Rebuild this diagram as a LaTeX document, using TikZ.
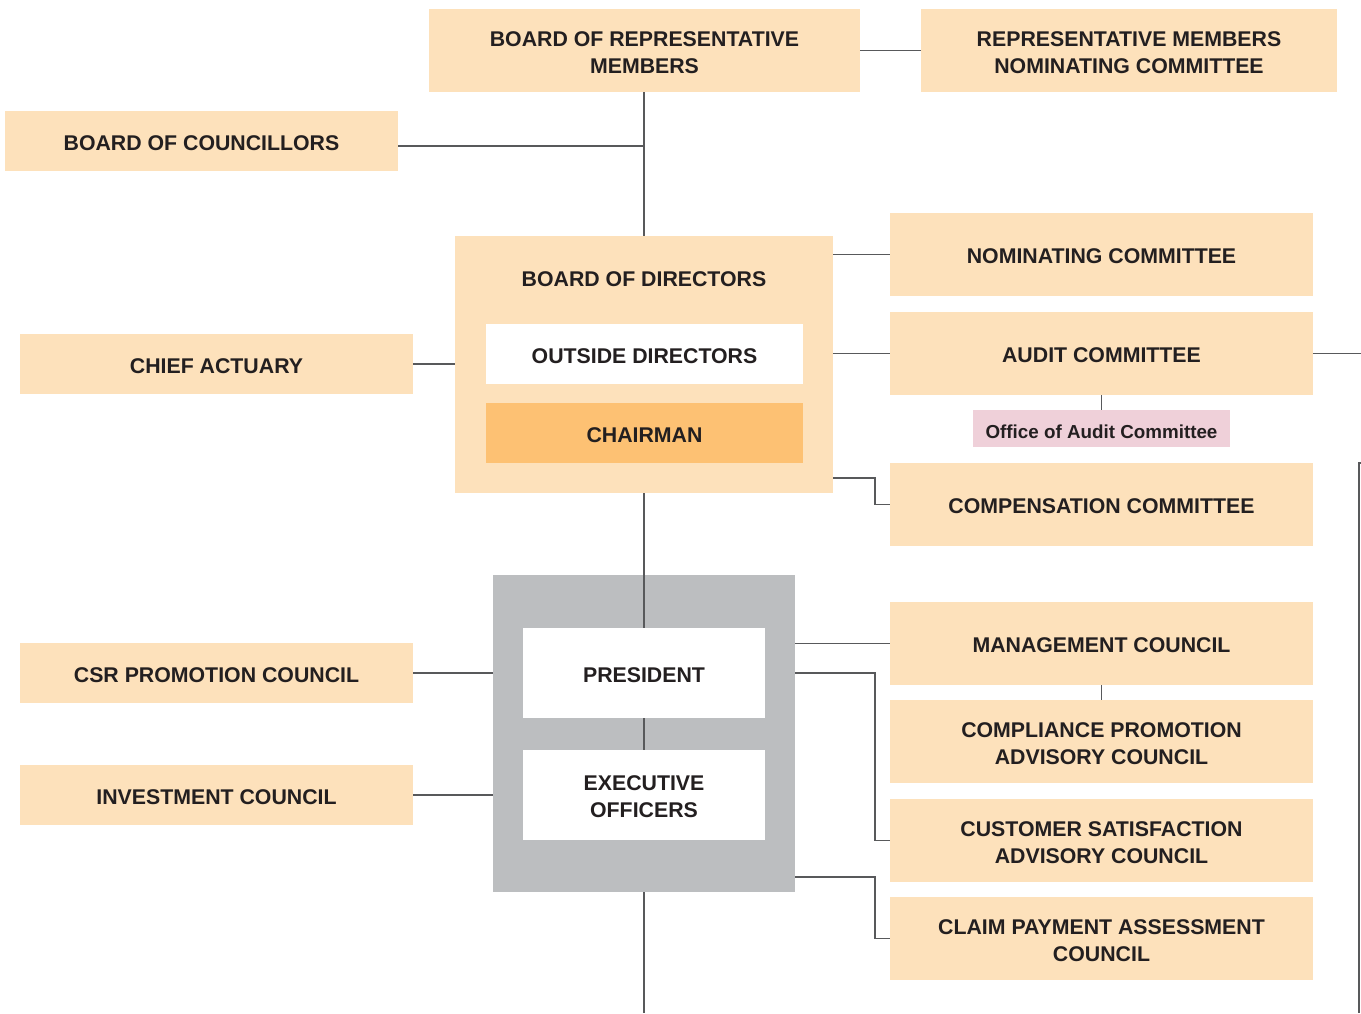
\documentclass[tikz,border=0pt]{standalone}
\usepackage{fontspec}
\setmainfont{Liberation Sans}
\definecolor{peach}{HTML}{FDE1BB}
\definecolor{chairc}{HTML}{FDC173}
\definecolor{grayc}{HTML}{BCBEC0}
\definecolor{pinkc}{HTML}{EFD0D9}
\definecolor{linec}{HTML}{58595B}
\definecolor{textc}{HTML}{231F20}
\tikzset{
  base/.style={inner sep=0pt, outer sep=0pt, align=center, text=textc,
    font=\fontsize{21.3}{27}\selectfont\bfseries},
  lbl/.style={base, yshift=-2pt},
  box/.style={base, fill=peach},
  wide/.style={box, minimum width=423pt, minimum height=83pt},
  side/.style={box, minimum width=393pt, minimum height=60pt},
  inner/.style={base, minimum width=317pt, minimum height=60pt},
  whitebox/.style={base, fill=white, minimum width=242pt, minimum height=90pt},
  conn/.style={draw=linec, line width=1.2pt}
}
\begin{document}
\begin{tikzpicture}[x=1pt,y=-1pt]
\useasboundingbox (0,0) rectangle (1361,1013);
% containers
\node[base, fill=grayc, minimum width=302pt, minimum height=317pt] (gray) at (644,733.5) {};
\node[box, minimum width=378pt, minimum height=257pt] (bod) at (644,364.5) {};
\node[base] (bodt) at (644,279) {BOARD OF DIRECTORS};
% boxes
\node[box, minimum width=431pt, minimum height=83pt,
  label={[lbl]center:{BOARD OF REPRESENTATIVE\\MEMBERS}}] (brm) at (644.5,50.5) {};
\node[box, minimum width=416pt, minimum height=83pt,
  label={[lbl]center:{REPRESENTATIVE MEMBERS\\NOMINATING COMMITTEE}}] (rmnc) at (1129,50.5) {};
\node[side, label={[lbl]center:BOARD OF COUNCILLORS}] (boc) at (201.5,141) {};
\node[inner, fill=white, label={[lbl]center:OUTSIDE DIRECTORS}] (od) at (644.5,354) {};
\node[inner, fill=chairc, label={[lbl]center:CHAIRMAN}] (chair) at (644.5,433) {};
\node[side, label={[lbl]center:CHIEF ACTUARY}] (ca) at (216.5,364) {};
\node[wide, label={[lbl]center:NOMINATING COMMITTEE}] (nc) at (1101.5,254.5) {};
\node[wide, label={[lbl]center:AUDIT COMMITTEE}] (ac) at (1101.5,353.5) {};
\node[base, fill=pinkc, minimum width=257pt, minimum height=37pt,
  label={[lbl, font=\fontsize{18.8}{22}\selectfont\bfseries, yshift=-1pt]center:Office of Audit Committee}] (off) at (1101.5,428.5) {};
\node[wide, label={[lbl]center:COMPENSATION COMMITTEE}] (cc) at (1101.5,504.5) {};
\node[whitebox, label={[lbl]center:PRESIDENT}] (pres) at (644,673) {};
\node[whitebox, label={[lbl]center:{EXECUTIVE\\OFFICERS}}] (exe) at (644,795) {};
\node[side, label={[lbl]center:CSR PROMOTION COUNCIL}] (csr) at (216.5,673) {};
\node[side, label={[lbl]center:INVESTMENT COUNCIL}] (inv) at (216.5,795) {};
\node[wide, label={[lbl]center:MANAGEMENT COUNCIL}] (mc) at (1101.5,643.5) {};
\node[wide, label={[lbl]center:{COMPLIANCE PROMOTION\\ADVISORY COUNCIL}}] (cpac) at (1101.5,741.5) {};
\node[wide, label={[lbl]center:{CUSTOMER SATISFACTION\\ADVISORY COUNCIL}}] (csac) at (1101.5,840.5) {};
\node[wide, label={[lbl]center:{CLAIM PAYMENT ASSESSMENT\\COUNCIL}}] (cpa) at (1101.5,938.5) {};
% free ends
\coordinate (acend) at (1361,353.5);
\coordinate (rtop) at (1359,463);
\coordinate (rtopr) at (1361,463);
\coordinate (rbot) at (1359,1013);
\coordinate (spbot) at (644,1013);
% connectors
\draw[conn] (brm.east) -- (rmnc.west);
\draw[conn] (brm.south -| bod.north) -- (bod.north);
\draw[conn] ([yshift=-5pt]boc.east) -- ([yshift=-5pt]boc.east -| bod.north);
\draw[conn] (ca.east) -- (ca.east -| bod.west);
\draw[conn] (bod.east |- nc.west) -- (nc.west);
\draw[conn] (bod.east |- ac.west) -- (ac.west);
\draw[conn] (ac.east) -- (acend);
\draw[conn] (ac.south) -- (off.north);
\draw[conn] ([yshift=15pt]bod.south east) -- ++(42,0) |- (cc.west);
\draw[conn] (bod.south) -- (pres.north);
\draw[conn] (pres.south) -- (exe.north);
\draw[conn] (gray.south) -- (spbot);
\draw[conn] (csr.east) -- (csr.east -| gray.west);
\draw[conn] (inv.east) -- (inv.east -| gray.west);
\draw[conn] (gray.east |- mc.west) -- (mc.west);
\draw[conn] (mc.south) -- (cpac.north);
\draw[conn] (gray.east |- pres.east) -- ++(80,0) |- (csac.west);
\draw[conn] ([yshift=15pt]gray.south east) -- ++(80,0) |- (cpa.west);
\draw[conn] (rtopr) -- (rtop) -- (rbot);
\end{tikzpicture}
\end{document}
